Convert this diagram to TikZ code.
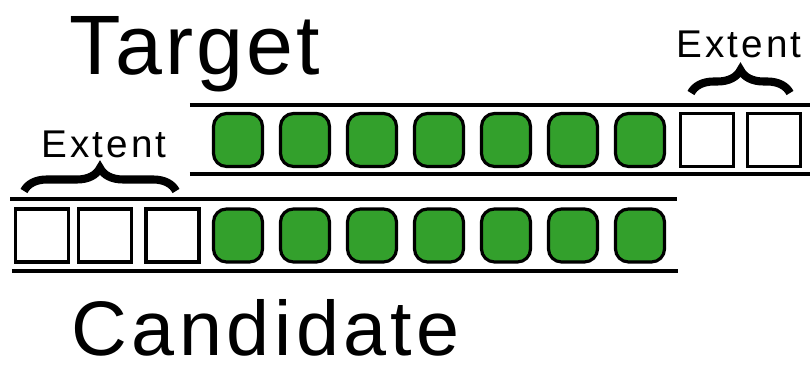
\documentclass[tikz,border=0pt]{standalone}
\usepackage{fontspec}
\setmainfont{Liberation Sans}
\newfontfamily\targetfont[LetterSpace=3.8]{Liberation Sans}
\newfontfamily\candfont[LetterSpace=5.8]{Liberation Sans}
\newfontfamily\extentfont[LetterSpace=7.8]{Liberation Sans}
\usepackage{tikz}
\usetikzlibrary{decorations.pathreplacing}
\definecolor{slotgreen}{RGB}{51,160,44}

\begin{document}
\begin{tikzpicture}
  \useasboundingbox (0,0) rectangle (8.1,3.67);
  \tikzset{
    filled/.style={draw, line width=0.9pt, fill=slotgreen, rounded corners=0.13cm,
      minimum width=0.49cm, minimum height=0.53cm, inner sep=0pt},
    empty/.style={draw, line width=0.9pt, fill=white,
      minimum size=0.53cm, inner sep=0pt},
    rule/.style={line width=0.9pt},
    extent/.style={decorate, decoration={brace, amplitude=0.23cm}, line width=2.3pt},
    title/.style={anchor=base west, inner sep=0pt},
    label/.style={anchor=base west, inner sep=0pt, font=\extentfont\fontsize{11pt}{13pt}\selectfont}
  }

  % Titles
  \node[title, font=\targetfont\fontsize{24pt}{29pt}\selectfont] (target) at (0.69,2.92) {Target};
  \node[title, font=\candfont\fontsize{22pt}{27pt}\selectfont] (candidate) at (0.71,0.11) {Candidate};

  % Target row
  \coordinate (t1) at (1.90,2.62);
  \coordinate (t2) at (8.10,2.62);
  \coordinate (t3) at (1.90,1.93);
  \coordinate (t4) at (8.10,1.93);
  \draw[rule] (t1) -- (t2);
  \draw[rule] (t3) -- (t4);
  \foreach \i in {0,...,6}
    \node[filled] (tg\i) at (2.38+0.67*\i,2.27) {};
  \foreach \i in {7,8}
    \node[empty] (te\i) at (2.38+0.67*\i,2.27) {};

  % Candidate row
  \coordinate (c1) at (0.10,1.68);
  \coordinate (c2) at (6.77,1.68);
  \coordinate (c3) at (0.12,0.96);
  \coordinate (c4) at (6.78,0.96);
  \draw[rule] (c1) -- (c2);
  \draw[rule] (c3) -- (c4);
  \foreach \i in {0,...,6}
    \node[filled] (cg\i) at (2.38+0.67*\i,1.315) {};
  \foreach \x [count=\i] in {0.417,1.052,1.725}
    \node[empty] (ce\i) at (\x,1.315) {};

  % Extents
  \coordinate (b1) at (0.24,1.76);
  \coordinate (b2) at (1.76,1.76);
  \draw[extent] (b1) -- (b2);
  \node[label] (lext) at (0.41,2.09) {Extent};

  \coordinate (b3) at (6.91,2.74);
  \coordinate (b4) at (7.90,2.74);
  \draw[extent] (b3) -- (b4);
  \node[label] (rext) at (6.76,3.09) {Extent};
\end{tikzpicture}
\end{document}
